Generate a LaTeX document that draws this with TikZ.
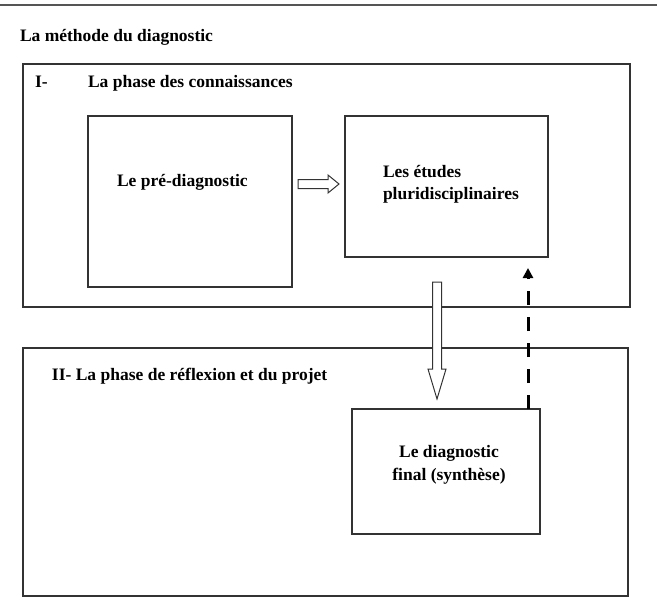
\documentclass[tikz,border=0pt]{standalone}
\usepackage{fontspec}
\setmainfont{Liberation Serif}
\usetikzlibrary{arrows.meta}
\definecolor{linegray}{HTML}{333333}
\definecolor{rulegray}{HTML}{555555}
\tikzset{
  panel/.style={draw=linegray, line width=1.3pt, inner sep=0pt, outer sep=0pt, anchor=north west},
  lbl/.style={inner sep=0pt, outer sep=0pt, font=\bfseries\fontsize{17.5}{23}\selectfont},
  hollow/.style={draw=linegray, line width=1pt, fill=white, line join=miter},
  dasharrow/.style={draw=black, line width=3pt, dash pattern=on 14pt off 12pt, -{Triangle[length=10pt,width=10pt]}}
}
\begin{document}
\begin{tikzpicture}[x=1pt,y=-1pt]
\useasboundingbox (0,0) rectangle (657,616);
% top rule
\coordinate (rl) at (0,5);
\coordinate (rr) at (657,5);
\draw[rulegray, line width=2pt] (rl) -- (rr);
% title
\node[lbl, anchor=base west] (title) at (20,41) {La méthode du diagnostic};
% panels
\node[panel, minimum width=607pt, minimum height=243pt] (phaseI) at (23,64) {};
\node[panel, minimum width=605pt, minimum height=248pt] (phaseII) at (23,348) {};
\node[panel, minimum width=204pt, minimum height=171pt] (pre) at (88,116) {};
\node[panel, minimum width=203pt, minimum height=141pt] (etudes) at (345,116) {};
\node[panel, minimum width=188pt, minimum height=125pt] (final) at (352,409) {};
% labels
\node[lbl, anchor=base west] (numI) at (35,87) {I-};
\node[lbl, anchor=base west] (titI) at (88,87) {La phase des connaissances};
\node[lbl, anchor=base west] (titII) at (52,380) {II- La phase de réflexion et du projet};
\node[lbl, anchor=base west] (tpre) at (117,186) {Le pré-diagnostic};
\node[lbl, anchor=base west] (tet1) at (383,177) {Les études};
\node[lbl, anchor=base west] (tet2) at (383,199) {pluridisciplinaires};
\node[lbl, anchor=base] (tfi1) at (449,457) {Le diagnostic};
\node[lbl, anchor=base] (tfi2) at (449,480) {final (synthèse)};
% hollow right arrow from pre to etudes
\draw[hollow] (298,179.5) -- (328,179.5) -- (328,175) -- (339,184) -- (328,193) -- (328,188.5) -- (298,188.5) -- cycle;
% hollow down arrow from etudes towards final
\draw[hollow] (432.5,282) -- (441.5,282) -- (441.5,369) -- (446,369) -- (437,399) -- (428,369) -- (432.5,369) -- cycle;
% dashed arrow from final up to etudes
\coordinate (dend) at (528,268);
\draw[dasharrow] (final.north -| dend) -- (dend);
\end{tikzpicture}
\end{document}
